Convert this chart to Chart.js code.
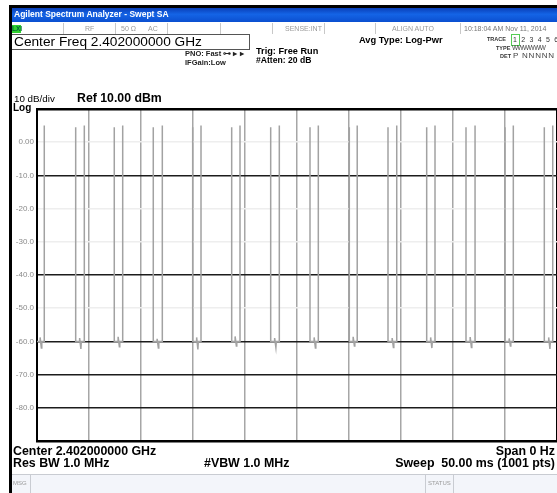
<!DOCTYPE html>
<html>
<head>
<meta charset="utf-8">
<script src="https://cdn.jsdelivr.net/npm/chart.js@4/dist/chart.umd.min.js"></script>
<style>
body{margin:0;width:557px;height:493px;overflow:hidden;background:#fff;position:relative;font-family:"Liberation Sans",Arial,sans-serif}
#wrap{position:absolute;left:0;top:0;width:557px;height:493px}
.t{position:absolute;white-space:nowrap;line-height:1;color:#000}
.b{font-weight:bold}
.g{color:#9a9a9a;font-size:7px}
.frameL{position:absolute;left:9px;top:6px;width:3px;height:487px;background:#000}
.frameT{position:absolute;left:9px;top:5px;width:548px;height:3px;background:#000}
.title{position:absolute;left:12px;top:8px;width:545px;height:14px;background:linear-gradient(#0a3fb8,#1464e6 45%,#0b4fd0)}
.sep{position:absolute;top:23px;width:1px;height:11px;background:#c8c8c8}
.cfbox{position:absolute;left:12px;top:34px;width:237px;height:14px;border:1px solid #555;border-left:none}
.status{position:absolute;left:12px;top:474px;width:545px;height:19px;background:#f3f5fa;border-top:1px solid #c9ccd2}
</style>
</head>
<body>
<div id="wrap"><canvas id="chartSA" width="557" height="493"></canvas></div>

<div class="frameT"></div>
<div class="frameL"></div>
<div class="title"></div>
<div class="t b" style="left:14px;top:10px;font-size:8.5px;color:#fff">Agilent Spectrum Analyzer - Swept SA</div>

<div style="position:absolute;left:12px;top:25px;width:9px;height:8px;background:#2fcf2f"></div>
<div class="t b" style="left:12px;top:26px;font-size:6.5px;color:#063">LXI</div>
<div class="sep" style="left:63px"></div>
<div class="sep" style="left:115px"></div>
<div class="sep" style="left:167px"></div>
<div class="sep" style="left:220px"></div>
<div class="sep" style="left:272px"></div>
<div class="sep" style="left:324px"></div>
<div class="sep" style="left:375px"></div>
<div class="sep" style="left:460px"></div>
<div class="t g" style="left:85px;top:25px">RF</div>
<div class="t g" style="left:121px;top:25px">50 Ω</div>
<div class="t g" style="left:148px;top:25px">AC</div>
<div class="t g" style="left:285px;top:25px">SENSE:INT</div>
<div class="t g" style="left:392px;top:25px">ALIGN AUTO</div>
<div class="t g" style="left:464px;top:25px;color:#777">10:18:04 AM Nov 11, 2014</div>

<div class="cfbox"></div>
<div class="t" style="left:14px;top:35px;font-size:13.7px">Center Freq 2.402000000 GHz</div>
<div class="t b" style="left:185px;top:50px;font-size:7.5px;color:#222">PNO: Fast ⊶ ▸ ▸</div>
<div class="t b" style="left:185px;top:59px;font-size:7.5px;color:#222">IFGain:Low</div>
<div class="t b" style="left:256px;top:47px;font-size:9.2px">Trig: Free Run</div>
<div class="t b" style="left:256px;top:56px;font-size:8.6px">#Atten: 20 dB</div>
<div class="t b" style="left:359px;top:36px;font-size:9.3px">Avg Type: Log-Pwr</div>

<div class="t b" style="left:487px;top:37px;font-size:5.5px;color:#333">TRACE</div>
<div style="position:absolute;left:511px;top:34px;width:7px;height:10px;border:1px solid #55cc55"></div>
<div class="t" style="left:513px;top:36px;font-size:7px;color:#333;letter-spacing:1.2px">1 2 3 4 5 6</div>
<div class="t b" style="left:496px;top:46px;font-size:5.5px;color:#333">TYPE</div>
<div class="t" style="left:512px;top:45px;font-size:6.5px;color:#444;letter-spacing:-0.6px">WWWWWW</div>
<div class="t b" style="left:500px;top:54px;font-size:5.5px;color:#333">DET</div>
<div class="t" style="left:513px;top:52px;font-size:8px;color:#444;letter-spacing:0.8px">P NNNNN</div>

<div class="t" style="left:14px;top:94px;font-size:9.8px">10 dB/div</div>
<div class="t b" style="left:77px;top:92px;font-size:12.3px">Ref 10.00 dBm</div>
<div class="t b" style="left:13px;top:103px;font-size:10px">Log</div>

<div class="t b" style="left:13px;top:445px;font-size:12.4px">Center 2.402000000 GHz</div>
<div class="t b" style="left:13px;top:457px;font-size:12.4px">Res BW 1.0 MHz</div>
<div class="t b" style="left:204px;top:457px;font-size:12.4px">#VBW 1.0 MHz</div>
<div class="t b" style="right:2px;top:445px;font-size:12.4px">Span 0 Hz</div>
<div class="t b" style="right:2px;top:457px;font-size:12.4px">Sweep&nbsp; 50.00 ms (1001 pts)</div>

<div class="status"></div>
<div style="position:absolute;left:30px;top:475px;width:1px;height:18px;background:#c9ccd2"></div>
<div style="position:absolute;left:425px;top:475px;width:1px;height:18px;background:#c9ccd2"></div>
<div style="position:absolute;left:453px;top:475px;width:1px;height:18px;background:#c9ccd2"></div>
<div class="t g" style="left:13px;top:480px;font-size:6px">MSG</div>
<div class="t g" style="left:428px;top:480px;font-size:6px">STATUS</div>

<script>
// zero span sweep, 0..50 ms, level in dBm
var riseMs = [0.70, 4.55, 8.24, 12.05, 15.77, 19.52, 23.30, 27.05, 30.79, 34.59, 38.27, 42.12, 45.80, 49.59];
var fallMs = [3.72, 7.43, 11.18, 14.97, 18.72, 22.47, 26.25, 30.03, 33.75, 37.47, 41.25, 45.00, 48.78];
var riseTopDbm = [5.0, 5.0, 5.0, 5.0, 5.0, 5.0, 5.0, 5.0, 5.0, 5.0, 5.0, 5.0, 5.0, 5.0];
var fallTopDbm = [4.5, 4.5, 4.5, 4.5, 4.5, 4.5, 4.5, 4.5, 4.5, 4.5, 4.5, 4.5, 4.5];
var offDbm = [-60.0, -60.0, -60.0, -60.0, -60.0, -60.0, -60.0, -60.0, -60.0, -60.0, -60.0, -60.0, -60.0, -60.0];
var noiseMs = [0.30, 4.10, 7.80, 11.55, 15.35, 19.05, 22.85, 26.65, 30.40, 34.15, 37.85, 41.65, 45.40, 49.20];
var noiseHiDbm = [-58.8, -59.0, -58.6, -59.2, -58.8, -58.5, -59.0, -58.8, -58.6, -59.0, -58.8, -58.7, -59.1, -58.8];
var noiseLoDbm = [-62.0, -62.3, -61.6, -62.0, -62.4, -61.4, -61.8, -62.0, -61.4, -61.8, -62.0, -61.8, -61.4, -62.3];

var yTickValues = [0, -10, -20, -30, -40, -50, -60, -70, -80];
var yTickLabels = ["0.00", "-10.0", "-20.0", "-30.0", "-40.0", "-50.0", "-60.0", "-70.0", "-80.0"];
var darkGridDbm = [-10, -40, -60, -70, -80];

function buildTrace(){
  var pts = [];
  for (var i = 0; i < riseMs.length; i++) {
    var start = i === 0 ? 0 : fallMs[i - 1];
    if (i > 0) pts.push({x: start, y: fallTopDbm[i - 1]});
    pts.push({x: start, y: offDbm[i]});
    pts.push({x: noiseMs[i], y: offDbm[i]});
    pts.push({x: noiseMs[i], y: noiseHiDbm[i]});
    pts.push({x: noiseMs[i] + 0.12, y: noiseLoDbm[i]});
    pts.push({x: noiseMs[i] + 0.16, y: offDbm[i]});
    pts.push({x: riseMs[i], y: offDbm[i]});
    pts.push({x: riseMs[i], y: riseTopDbm[i]});
    pts.push({x: riseMs[i], y: null});
  }
  return pts;
}

function plot(){
  var ctx = document.getElementById("chartSA");
  new Chart(ctx, {
    type: 'scatter',
    data: {
      datasets: [{
        data: buildTrace(),
        showLine: true,
        spanGaps: false,
        borderColor: '#a2a2a2',
        borderWidth: 1.5,
        pointRadius: 0,
        tension: 0
      }]
    },
    options: {
      responsive: false,
      animation: false,
      events: [],
      layout: { padding: { top: 109, bottom: 52, left: 0, right: 0 } },
      plugins: { legend: { display: false }, tooltip: { enabled: false } },
      scales: {
        x: {
          type: 'linear', min: 0, max: 50,
          ticks: { display: false, stepSize: 5 },
          border: { display: true, color: '#000', width: 2 },
          grid: {
            drawTicks: false,
            color: function (c) { return (c.tick.value === 0 || c.tick.value === 50) ? '#000' : '#a6a6a6'; },
            lineWidth: function (c) { return (c.tick.value === 0 || c.tick.value === 50) ? 2 : 1.5; }
          },
          afterFit: function (s) { s.height = 0; }
        },
        y: {
          min: -90, max: 10,
          ticks: {
            stepSize: 10,
            padding: 3,
            color: '#8a8a8a',
            font: { family: 'Liberation Sans', size: 8 },
            callback: function (v) {
              var i = yTickValues.indexOf(v);
              return i >= 0 ? yTickLabels[i] : '';
            }
          },
          border: { display: true, color: '#000', width: 2 },
          grid: {
            drawTicks: false,
            color: function (c) {
              var v = c.tick.value;
              if (v === 10 || v === -90) return '#000';
              return darkGridDbm.indexOf(v) >= 0 ? '#1c1c1c' : '#eeeeee';
            },
            lineWidth: function (c) {
              var v = c.tick.value;
              return (v === 10 || v === -90) ? 2.5 : 1.5;
            }
          },
          afterFit: function (s) { s.width = 37; }
        }
      }
    }
  });
}

plot();
</script>
</body>
</html>
